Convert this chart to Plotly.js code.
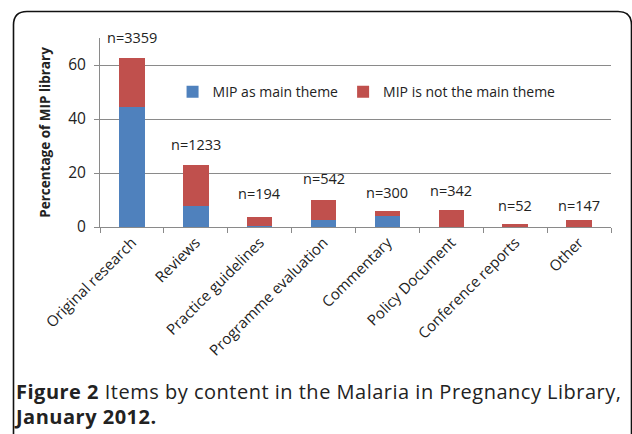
<!DOCTYPE html>
<html>
<head>
<meta charset="utf-8">
<script src="https://cdn.plot.ly/plotly-3.0.1.min.js"></script>
<style>
  html, body { margin:0; padding:0; width:632px; height:434px; overflow:hidden; background:#fff; }
  #chart { position:absolute; left:0; top:0; width:632px; height:434px; }
  #frame { position:absolute; left:0; top:0; z-index:10; pointer-events:none; }
  #caption { position:absolute; left:16px; top:379px; width:625px; font-family:"Open Sans", sans-serif; font-size:20px; letter-spacing:0.5px; line-height:25px; color:#222; white-space:nowrap; z-index:5; }
</style>
</head>
<body>
<div id="chart"></div>
<svg id="frame" width="632" height="434"><path d="M13.5,450 L13.5,25 Q13.5,11.5 27,11.5 L618,11.5 Q631.5,11.5 631.5,25 L631.5,450" stroke="#111" stroke-width="1.6" fill="none"/></svg>
<div id="caption"><b>Figure 2</b> Items by content in the Malaria in Pregnancy Library,<br><b>January 2012.</b></div>
<script>
const categories = ["Original research","Reviews","Practice guidelines","Programme evaluation","Commentary","Policy Document","Conference reports","Other"];
const mainTheme = [44.5, 7.6, 0.4, 2.6, 4.1, 0, 0.1, 0];
const notMainTheme = [18.1, 15.4, 3.2, 7.5, 1.8, 6.4, 0.9, 2.7];
const nLabels = ["n=3359","n=1233","n=194","n=542","n=300","n=342","n=52","n=147"];
const nLabelY = [70.3, 30.5, 12.4, 18.0, 12.9, 13.6, 8.0, 8.0];
const seriesNames = ["MIP as main theme","MIP is not the main theme"];
const yMax = 70;

const font = "Open Sans, sans-serif";
const traces = [
  {type:"bar", x:categories, y:mainTheme, name:seriesNames[0], marker:{color:"#4F81BD"}},
  {type:"bar", x:categories, y:notMainTheme, name:seriesNames[1], marker:{color:"#C0504D"}}
];
const annotations = categories.map((c,i)=>({
  x:c, y:nLabelY[i]/yMax, xref:"x", yref:"paper", xanchor:"center", yanchor:"middle",
  text:nLabels[i], showarrow:false,
  font:{family:font, size:14.5, color:"#222"}
}));
const layout = {
  width:632, height:434,
  margin:{l:100, r:21, t:38, b:207},
  barmode:"stack", bargap:0.6,
  paper_bgcolor:"rgba(0,0,0,0)", plot_bgcolor:"rgba(0,0,0,0)",
  font:{family:font, size:14, color:"#222"},
  showlegend:true,
  legend:{orientation:"h", x:0.142, y:0.713, xanchor:"left", yanchor:"middle",
          font:{family:font, size:14, color:"#222"}, bgcolor:"rgba(0,0,0,0)", traceorder:"normal"},
  xaxis:{type:"category", tickangle:-45, showline:true, linecolor:"#8a8a8a", linewidth:1,
         ticks:"outside", tickson:"boundaries", ticklen:5, tickcolor:"#8a8a8a",
         tickfont:{family:font, size:15, color:"#222"}, showgrid:false},
  yaxis:{range:[0,yMax], dtick:20, showline:true, linecolor:"#8a8a8a", linewidth:1,
         ticks:"outside", ticklen:5, tickcolor:"#8a8a8a", gridcolor:"#8a8a8a", gridwidth:1,
         zeroline:false, ticklabelstandoff:5, tickfont:{family:font, size:15.5, color:"#222"},
         title:{text:"<b>Percentage of MIP library</b>", font:{family:font, size:13.5, color:"#222"}, standoff:14}},
  annotations:annotations
};
Plotly.newPlot("chart", traces, layout, {displayModeBar:false, staticPlot:true});
</script>
</body>
</html>
